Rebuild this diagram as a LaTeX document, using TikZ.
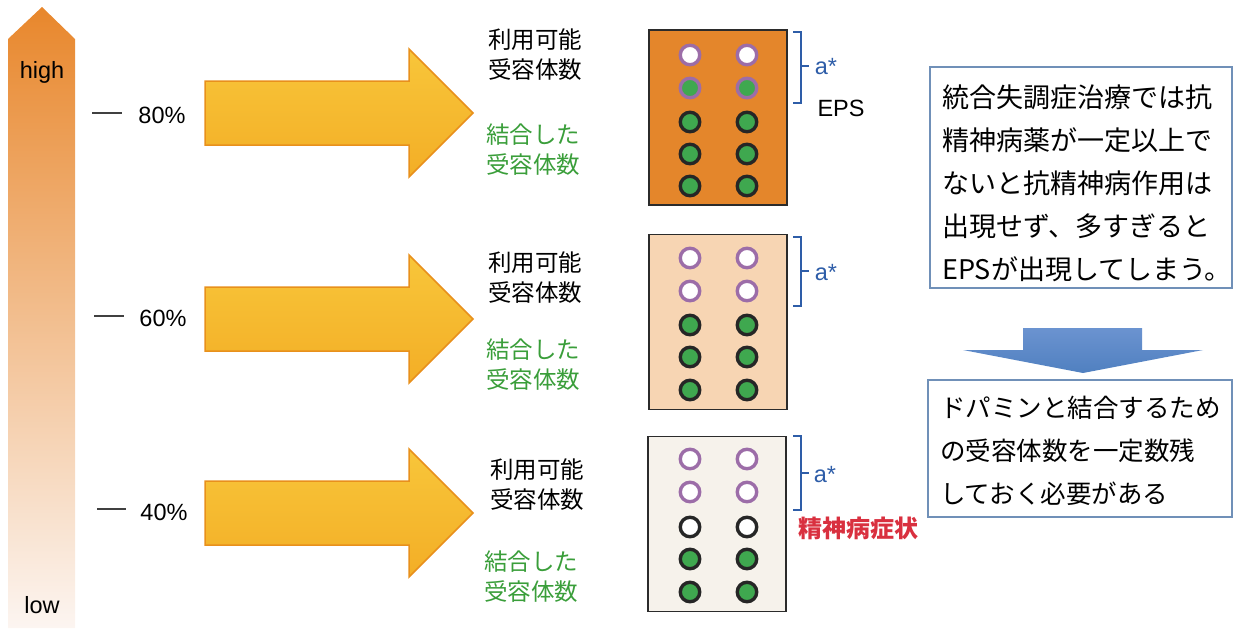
\documentclass[tikz,border=0pt]{standalone}
\usepackage{fontspec}
\setmainfont{Liberation Sans}
\newfontfamily\jp{Noto Sans CJK JP}
\definecolor{orTop}{HTML}{E8872C}
\definecolor{orMid}{HTML}{F4C4AC}
\definecolor{orBot}{HTML}{FCF5F1}
\definecolor{yelTop}{HTML}{F8C63A}
\definecolor{yelBot}{HTML}{F3AE26}
\definecolor{yelEdge}{HTML}{E8901C}
\definecolor{boxA}{HTML}{E4862B}
\definecolor{boxB}{HTML}{F7D5B3}
\definecolor{boxC}{HTML}{F6F2EB}
\definecolor{boxedge}{HTML}{2B2B2B}
\definecolor{rgreen}{HTML}{3FA84F}
\definecolor{rpurple}{HTML}{9C6DA8}
\definecolor{lgreen}{HTML}{3A9E3A}
\definecolor{brblue}{HTML}{2E5DA8}
\definecolor{redtxt}{HTML}{D9303F}
\definecolor{rbox}{HTML}{7090B8}
\definecolor{arTop}{HTML}{6B93D0}
\definecolor{arBot}{HTML}{5080C0}
\begin{document}
\begin{tikzpicture}[x=1pt,y=-1pt,
  lat/.style={font=\fontsize{23.5}{27}\selectfont, inner sep=0},
  lbl/.style={font=\jp\fontsize{23.5}{30}\selectfont, align=left, anchor=west, inner sep=0},
  grn/.style={lbl, text=lgreen},
  panel/.style={draw=boxedge, line width=1.5pt, minimum width=138pt, minimum height=175pt, inner sep=0},
  rc/.style={circle, minimum size=19.5pt, inner sep=0, line width=3.4pt},
  cw/.style={rc, draw=rpurple, fill=white},
  cg/.style={rc, draw=rpurple, fill=rgreen},
  cgb/.style={rc, draw=black!85, fill=rgreen},
  cwb/.style={rc, draw=black!85, fill=white},
  brk/.style={draw=brblue, line width=1.8pt},
  rtext/.style={font=\jp\fontsize{27}{43}\selectfont, align=left, anchor=west, inner sep=0},
  rtextb/.style={font=\jp\fontsize{25.5}{43}\selectfont, align=left, anchor=west, inner sep=0},
  rframe/.style={draw=rbox, line width=1.5pt, fill=white}
]
\useasboundingbox (0,0) rectangle (1238,630);
% left gradient arrow
\shade[top color=orTop, middle color=orMid, bottom color=orBot]
  (42,7) -- (75,39) -- (75,628) -- (8,628) -- (8,39) -- cycle;
\node[lat] (high) at (42,72) {high};
\node[lat] (low) at (42,605) {low};
% percentage ticks
\draw[black!75, line width=1.3pt] (92,113) -- (122,113);
\node[lat] (p80) at (162,115) {80\%};
\draw[black!75, line width=1.3pt] (94,316) -- (124,316);
\node[lat] (p60) at (163,318) {60\%};
\draw[black!75, line width=1.3pt] (97,509) -- (126,509);
\node[lat] (p40) at (164,512) {40\%};
% yellow arrows
\foreach \yc in {113,319,513}{
  \shade[top color=yelTop, bottom color=yelBot]
    (205,\yc-32) -- (409,\yc-32) -- (409,\yc-64) -- (473,\yc) -- (409,\yc+64) -- (409,\yc+32) -- (205,\yc+32) -- cycle;
  \draw[yelEdge, line width=1.5pt, line join=miter]
    (205,\yc-32) -- (409,\yc-32) -- (409,\yc-64) -- (473,\yc) -- (409,\yc+64) -- (409,\yc+32) -- (205,\yc+32) -- cycle;
}
% labels
\node[lbl] (la1) at (488,55) {利用可能\\受容体数};
\node[grn] (lb1) at (486,150) {結合した\\受容体数};
\node[lbl] (la2) at (488,278) {利用可能\\受容体数};
\node[grn] (lb2) at (486,365) {結合した\\受容体数};
\node[lbl] (la3) at (490,485) {利用可能\\受容体数};
\node[grn] (lb3) at (484,577) {結合した\\受容体数};
% panels
\node[panel, fill=boxA] (P1) at (718,117.5) {};
\node[panel, fill=boxB] (P2) at (718,322) {};
\node[panel, fill=boxC] (P3) at (717,524) {};
% circles
\foreach \c/\x in {1/690,2/747}{
  \node[cw]  (a1\c) at (\x,55) {};
  \node[cg]  (a2\c) at (\x,88) {};
  \node[cgb] (a3\c) at (\x,122) {};
  \node[cgb] (a4\c) at (\x,154) {};
  \node[cgb] (a5\c) at (\x,186) {};
  \node[cw]  (b1\c) at (\x,258) {};
  \node[cw]  (b2\c) at (\x,291) {};
  \node[cgb] (b3\c) at (\x,325) {};
  \node[cgb] (b4\c) at (\x,357) {};
  \node[cgb] (b5\c) at (\x,390) {};
  \node[cw]  (c1\c) at (\x,459) {};
  \node[cw]  (c2\c) at (\x,492) {};
  \node[cwb] (c3\c) at (\x,527) {};
  \node[cgb] (c4\c) at (\x,559) {};
  \node[cgb] (c5\c) at (\x,592) {};
}
% brackets
\draw[brk] (793,32) -- (801,32) -- (801,103) -- (793,103);
\draw[brk] (801,66) -- (809,66);
\node[lat, text=brblue] (as1) at (826,67) {a*};
\node[lat] (eps) at (841,108) {EPS};
\draw[brk] (793,237) -- (801,237) -- (801,306) -- (793,306);
\draw[brk] (801,271) -- (809,271);
\node[lat, text=brblue] (as2) at (826,273) {a*};
\draw[brk] (793,436) -- (801,436) -- (801,510) -- (793,510);
\draw[brk] (801,473) -- (809,473);
\node[lat, text=brblue] (as3) at (825,475) {a*};
\node[font=\jp\bfseries\fontsize{24}{26}\selectfont, text=redtxt, inner sep=0] (sym) at (858,528) {精神病症状};
% right boxes
\draw[rframe] (930,67) rectangle (1232,288);
\node[rtext] (t1) at (942,183) {統合失調症治療では抗\\精神病薬が一定以上で\\ないと抗精神病作用は\\出現せず、多すぎると\\EPSが出現してしまう。};
\shade[top color=arTop, bottom color=arBot]
  (1023,328) -- (1142,328) -- (1142,350) -- (1203,350) -- (1083,373) -- (963,350) -- (1023,350) -- cycle;
\draw[rframe] (928,380) rectangle (1232,517);
\node[rtextb] (t2) at (940,451) {ドパミンと結合するため\\の受容体数を一定数残\\しておく必要がある};
\end{tikzpicture}
\end{document}
